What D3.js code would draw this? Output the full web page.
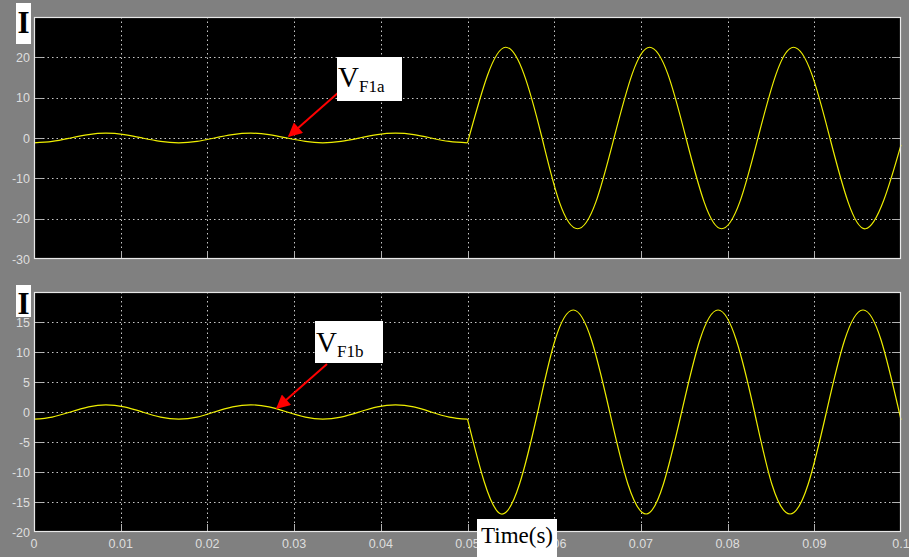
<!DOCTYPE html>
<html><head><meta charset="utf-8">
<script src="https://cdn.jsdelivr.net/npm/d3@7/dist/d3.min.js"></script>
<style>html,body{margin:0;padding:0;background:#808080;overflow:hidden}</style>
</head><body>
<svg id="c" width="909" height="557"></svg>
<script>
// ---- data ----
const timeTicks = [0, 0.01, 0.02, 0.03, 0.04, 0.05, 0.06, 0.07, 0.08, 0.09, 0.1];
const timeTickLabels = ["0", "0.01", "0.02", "0.03", "0.04", "0.05", "0.06", "0.07", "0.08", "0.09", "0.1"];
const ticksA = [-30, -20, -10, 0, 10, 20, 30];
const labelsA = [-30, -20, -10, 0, 10, 20];        // "30" is hidden behind the "I" box
const ticksB = [-20, -15, -10, -5, 0, 5, 10, 15, 20];
const labelsB = [-20, -15, -10, -5, 0, 5, 10, 15]; // "20" is hidden behind the "I" box
const faultTime = 0.05;

// panel A (V_F1a)
const timeA = [0, 0.0021, 0.0042, 0.0063, 0.0083, 0.0104, 0.0125, 0.0146, 0.0167, 0.0188, 0.0208, 0.0229, 0.025,
  0.0271, 0.0292, 0.0313, 0.0333, 0.0354, 0.0375, 0.0396, 0.0417, 0.0438, 0.0458, 0.0479, 0.05,
  0.0523, 0.0544, 0.0565, 0.0586, 0.0606, 0.0627, 0.0648, 0.0669, 0.069, 0.071, 0.0731, 0.0752, 0.0773,
  0.0793, 0.0814, 0.0835, 0.0856, 0.0876, 0.0897, 0.0918, 0.0939, 0.0959, 0.098, 0.1];
const currentA = [-1.2, -0.85, 0, 0.85, 1.2, 0.85, 0, -0.85, -1.2, -0.85, 0, 0.85, 1.2,
  0.85, 0, -0.85, -1.2, -0.85, 0, 0.85, 1.2, 0.85, 0, -0.85, -1.2,
  15.5, 22.5, 15.9, 0, -15.9, -22.5, -15.9, 0, 15.9, 22.5, 15.9, 0, -15.9,
  -22.5, -15.9, 0, 15.9, 22.5, 15.9, 0, -15.9, -22.5, -15.5, -1.7];

// panel B (V_F1b)
const timeB = [0, 0.0021, 0.0042, 0.0063, 0.0083, 0.0104, 0.0125, 0.0146, 0.0167, 0.0188, 0.0208, 0.0229, 0.025,
  0.0271, 0.0292, 0.0313, 0.0333, 0.0354, 0.0375, 0.0396, 0.0417, 0.0438, 0.0458, 0.0479, 0.05,
  0.0519, 0.0539, 0.056, 0.0581, 0.0601, 0.0622, 0.0643, 0.0664, 0.0685, 0.0706, 0.0726, 0.0747, 0.0768,
  0.0789, 0.081, 0.0831, 0.0851, 0.0872, 0.0893, 0.0914, 0.0935, 0.0956, 0.0977, 0.1];
const currentB = [-1.2, -0.85, 0, 0.85, 1.2, 0.85, 0, -0.85, -1.2, -0.85, 0, 0.85, 1.2,
  0.85, 0, -0.85, -1.2, -0.85, 0, 0.85, 1.2, 0.85, 0, -0.85, -1.2,
  -11.5, -17, -12, 0, 12, 17, 12, 0, -12, -17, -12, 0, 12,
  17, 12, 0, -12, -17, -12, 0, 12, 17, 12, -1.3];

const svg = d3.select("#c");
const x = d3.scaleLinear().domain([0, 0.1]).range([34, 901]);

function panel(top, bottom, yDomain, yTicks, yLabels, times, vals, showX) {
  const y = d3.scaleLinear().domain(yDomain).range([bottom, top]);
  const g = svg.append("g");
  g.append("rect").attr("x", x(0)).attr("y", top).attr("width", x(0.1) - x(0)).attr("height", bottom - top)
    .attr("fill", "#000");
  // grid
  const innerX = timeTicks.filter(t => t > 0 && t < 0.1);
  const innerY = yTicks.filter(v => v > yDomain[0] && v < yDomain[1]);
  g.selectAll(".gx").data(innerX).join("line")
    .attr("x1", d => Math.round(x(d)) + 0.5).attr("x2", d => Math.round(x(d)) + 0.5)
    .attr("y1", top).attr("y2", bottom)
    .attr("stroke", "#c8c8c8").attr("stroke-width", 1).attr("stroke-dasharray", "1.5,3");
  g.selectAll(".gy").data(innerY).join("line")
    .attr("y1", d => Math.round(y(d)) + 0.5).attr("y2", d => Math.round(y(d)) + 0.5)
    .attr("x1", x(0)).attr("x2", x(0.1))
    .attr("stroke", "#c8c8c8").attr("stroke-width", 1).attr("stroke-dasharray", "1.5,3");
  // inner tick stubs
  g.selectAll(".tl").data(innerY).join("line")
    .attr("y1", d => Math.round(y(d)) + 0.5).attr("y2", d => Math.round(y(d)) + 0.5)
    .attr("x1", x(0)).attr("x2", x(0) + 9).attr("stroke", "#b0b0b0");
  g.selectAll(".tr").data(innerY).join("line")
    .attr("y1", d => Math.round(y(d)) + 0.5).attr("y2", d => Math.round(y(d)) + 0.5)
    .attr("x1", x(0.1) - 9).attr("x2", x(0.1)).attr("stroke", "#b0b0b0");
  g.selectAll(".tb").data(innerX).join("line")
    .attr("x1", d => Math.round(x(d)) + 0.5).attr("x2", d => Math.round(x(d)) + 0.5)
    .attr("y1", bottom - 8).attr("y2", bottom).attr("stroke", "#b0b0b0");
  // signal: pre-fault and post-fault segments drawn separately (sharp corner at fault)
  const pts = times.map((t, i) => [t, vals[i]]);
  const line = d3.line().x(d => x(d[0])).y(d => y(d[1])).curve(d3.curveNatural);
  const segs = [pts.filter(d => d[0] <= faultTime), pts.filter(d => d[0] >= faultTime)];
  g.selectAll(".sig").data(segs).join("path")
    .attr("d", line).attr("fill", "none").attr("stroke", "#eeee00").attr("stroke-width", 1.2);
  // frame
  g.append("rect").attr("x", x(0) + 0.5).attr("y", top + 0.5).attr("width", x(0.1) - x(0) - 1)
    .attr("height", bottom - top - 1).attr("fill", "none").attr("stroke", "#e8e8e8").attr("stroke-width", 1.2);
  // y labels
  g.selectAll(".yl").data(yLabels).join("text")
    .attr("x", 30).attr("y", d => y(d) + 4.5).attr("text-anchor", "end")
    .attr("font-family", "Liberation Sans, Arial, sans-serif").attr("font-size", 12.5)
    .attr("fill", "#dedede").text(d => d);
  if (showX) {
    g.selectAll(".xl").data(timeTicks).join("text")
      .attr("x", d => x(d)).attr("y", bottom + 16).attr("text-anchor", "middle")
      .attr("font-family", "Liberation Sans, Arial, sans-serif").attr("font-size", 12.5)
      .attr("fill", "#dedede").text((d, i) => timeTickLabels[i]);
  }
  return y;
}

panel(17, 259, [-30, 30], ticksA, labelsA, timeA, currentA, false);
panel(292, 532, [-20, 20], ticksB, labelsB, timeB, currentB, true);

// "I" boxes
function labelI(bx, by, bw, bh, baseline) {
  svg.append("rect").attr("x", bx).attr("y", by).attr("width", bw).attr("height", bh).attr("fill", "#fff");
  svg.append("text").attr("x", bx + bw / 2).attr("y", baseline).attr("text-anchor", "middle")
    .attr("font-family", "Liberation Serif, Times New Roman, serif").attr("font-weight", "bold")
    .attr("font-size", 31).attr("fill", "#000").text("I");
}
labelI(16, 3, 15, 41, 33);
labelI(16, 285, 15, 32, 314);

// arrows
const defs = svg.append("defs");
defs.append("marker").attr("id", "ah").attr("viewBox", "0 0 10 10").attr("refX", 9).attr("refY", 5)
  .attr("markerWidth", 8).attr("markerHeight", 7).attr("markerUnits", "strokeWidth").attr("orient", "auto")
  .append("path").attr("d", "M0,0 L10,5 L0,10 Z").attr("fill", "#ff0000");
function arrow(x1, y1, x2, y2) {
  svg.append("line").attr("x1", x1).attr("y1", y1).attr("x2", x2).attr("y2", y2)
    .attr("stroke", "#ff0000").attr("stroke-width", 2).attr("marker-end", "url(#ah)");
}
arrow(339, 92, 289, 136);
arrow(327, 364, 277, 408);

// V labels
function vlabel(bx, by, bw, bh, tx, base, sub) {
  svg.append("rect").attr("x", bx).attr("y", by).attr("width", bw).attr("height", bh).attr("fill", "#fff");
  const t = svg.append("text").attr("x", tx).attr("y", base)
    .attr("font-family", "Liberation Serif, Times New Roman, serif").attr("fill", "#000");
  t.append("tspan").attr("font-size", 29).text("V");
  t.append("tspan").attr("font-size", 17).attr("dy", 5).text(sub);
}
vlabel(337, 57, 65, 44, 338, 87, "F1a");
vlabel(315, 321, 68, 42, 316, 352, "F1b");

// Time(s)
svg.append("rect").attr("x", 477).attr("y", 519).attr("width", 80).attr("height", 38).attr("fill", "#fff");
svg.append("text").attr("x", 517).attr("y", 543).attr("text-anchor", "middle")
  .attr("font-family", "Liberation Serif, Times New Roman, serif").attr("font-size", 23)
  .attr("fill", "#000").text("Time(s)");
</script>
</body></html>
